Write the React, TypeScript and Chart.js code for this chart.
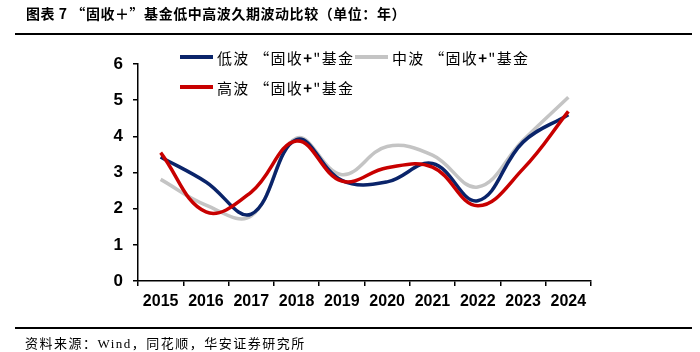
import React, { useEffect, useRef } from "react";
import { Chart, registerables } from "chart.js";
Chart.register(...registerables);

const years = ["2015", "2016", "2017", "2018", "2019", "2020", "2021", "2022", "2023", "2024"];
const lowVol = [3.43, 2.74, 1.85, 3.91, 2.78, 2.74, 3.25, 2.22, 3.84, 4.6];
const midVol = [2.81, 2.1, 1.8, 3.95, 2.94, 3.72, 3.48, 2.6, 3.89, 5.08];
const highVol = [3.55, 1.91, 2.46, 3.87, 2.76, 3.13, 3.15, 2.08, 3.1, 4.69];
const yTicks = [0, 1, 2, 3, 4, 5, 6];

const NAVY = "#0A246A";
const GRAY = "#C4C4C4";
const RED = "#C80000";
const CJK = '"Noto Sans CJK SC", "Liberation Sans", sans-serif';

export default function App() {
  const ref = useRef<HTMLCanvasElement>(null);
  useEffect(() => {
    const ctx = ref.current!;
    const chart = new Chart(ctx, {
      type: "line",
      data: {
        labels: years,
        datasets: [
          { label: "高波“固收+”基金", data: highVol, borderColor: RED, borderWidth: 3.5, pointRadius: 0, tension: 0.4, fill: false },
          { label: "低波“固收+”基金", data: lowVol, borderColor: NAVY, borderWidth: 3.5, pointRadius: 0, tension: 0.4, fill: false },
          { label: "中波“固收+”基金", data: midVol, borderColor: GRAY, borderWidth: 3.5, pointRadius: 0, tension: 0.4, fill: false },
        ],
      },
      options: {
        animation: false,
        responsive: false,
        maintainAspectRatio: false,
        layout: { padding: { left: 0, right: 109, top: 64, bottom: 0 } },
        plugins: { legend: { display: false }, tooltip: { enabled: false } },
        scales: {
          x: {
            type: "category",
            offset: true,
            grid: { offset: true, drawOnChartArea: false, drawTicks: true, tickLength: 5, color: "#000", lineWidth: 1.5 },
            border: { display: true, color: "#000", width: 1.5 },
            ticks: { color: "#000", font: { family: "Liberation Sans, Arial", size: 16, weight: "bold" }, padding: 6, maxRotation: 0, autoSkip: false },
            afterFit: (s: any) => { s.height = 71; },
          },
          y: {
            min: 0,
            max: 6,
            afterBuildTicks: (s: any) => { s.ticks = yTicks.map((v) => ({ value: v })); },
            grid: { drawOnChartArea: false, drawTicks: true, tickLength: 5, color: "#000", lineWidth: 1.5 },
            border: { display: true, color: "#000", width: 1.5 },
            ticks: { color: "#000", font: { family: "Liberation Sans, Arial", size: 17, weight: "bold" }, padding: 10 },
            afterFit: (s: any) => { s.width = 138; },
          },
        },
      },
    });
    return () => chart.destroy();
  }, []);

  const legendItem = (color: string, name: string, left: number, top: number) => (
    <div style={{ position: "absolute", left, top, display: "flex", alignItems: "center", height: 20 }}>
      <div style={{ width: 33, height: 4, background: color, marginRight: 4 }} />
      <span style={{ fontFamily: CJK, fontSize: 15, color: "#000", whiteSpace: "nowrap", letterSpacing: 1.3 }}>
        {name} “固收<b>+</b>"基金
      </span>
    </div>
  );

  return (
    <div style={{ position: "fixed", left: 0, top: 0, width: 700, height: 352, background: "#fff", overflow: "hidden" }}>
      <canvas ref={ref} width={700} height={352} style={{ position: "absolute", left: 0, top: 0, width: 700, height: 352 }} />
      <div style={{ position: "absolute", left: 26, top: 3, fontFamily: CJK, fontWeight: "bold", fontSize: 14, letterSpacing: 0.55, color: "#000", whiteSpace: "pre" }}>
        图表 7 “固收＋”基金低中高波久期波动比较（单位：年）
      </div>
      <div style={{ position: "absolute", left: 15, top: 33, width: 677, height: 2, background: "#000" }} />
      <div style={{ position: "absolute", left: 15, top: 327, width: 677, height: 2, background: "#000" }} />
      <div style={{ position: "absolute", left: 25, top: 333, fontFamily: '"Liberation Serif", "Noto Sans CJK SC", serif', fontSize: 13, letterSpacing: 1.5, color: "#000", whiteSpace: "nowrap" }}>
        资料来源：Wind，同花顺，华安证券研究所
      </div>
      {legendItem(NAVY, "低波", 180, 47)}
      {legendItem(GRAY, "中波", 355, 47)}
      {legendItem(RED, "高波", 180, 77)}
    </div>
  );
}
